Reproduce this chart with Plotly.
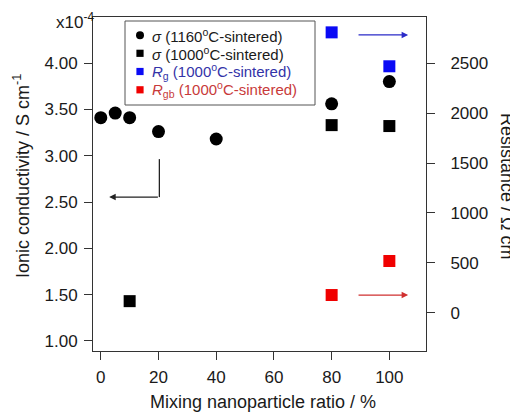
import plotly.graph_objects as go

# ---- data ----
x_1160 = [0, 5, 10, 20, 40, 80, 100]
sigma_1160 = [3.41, 3.46, 3.41, 3.26, 3.18, 3.56, 3.80]

x_1000 = [10, 80, 100]
sigma_1000 = [1.43, 3.33, 3.32]

x_R = [80, 100]
R_g = [2810, 2470]
R_gb = [177, 518]

x_ticks = [0, 20, 40, 60, 80, 100]
y_left_ticks = [1.0, 1.5, 2.0, 2.5, 3.0, 3.5, 4.0]
y_right_ticks = [0, 500, 1000, 1500, 2000, 2500]

legend_labels = [
    "<i>σ</i> (1160<sup>o</sup>C-sintered)",
    "<i>σ</i> (1000<sup>o</sup>C-sintered)",
    "<i>R</i><sub>g</sub> (1000<sup>o</sup>C-sintered)",
    "<i>R</i><sub>gb</sub> (1000<sup>o</sup>C-sintered)",
]
legend_text_colors = ["#1a1a1a", "#1a1a1a", "#3333a8", "#c83a3a"]
legend_marker_colors = ["black", "black", "#0a0af5", "#f00000"]
legend_symbols = ["circle", "rect", "rect", "rect"]

FONT = "Liberation Sans, Arial, sans-serif"
TXT = "#1a1a1a"
AX = "#333333"

# page body has an 8px default margin: work in screen pixels, offset the figure
OFF = 8
W, H = 518 - OFF, 414 - OFF
L, R, T, B = 93, 426, 17, 351  # plot area in screen pixels
def fx(px):
    return (px - L) / (R - L)
def fy(py):
    return (B - py) / (B - T)

fig = go.Figure()
fig.add_trace(go.Scatter(
    x=x_1160, y=sigma_1160, mode="markers",
    marker=dict(symbol="circle", size=13, color="black"), showlegend=False))
fig.add_trace(go.Scatter(
    x=x_1000, y=sigma_1000, mode="markers",
    marker=dict(symbol="square", size=12, color="black"), showlegend=False))
fig.add_trace(go.Scatter(
    x=x_R, y=R_g, mode="markers", yaxis="y2",
    marker=dict(symbol="square", size=12, color="#0a0af5"), showlegend=False))
fig.add_trace(go.Scatter(
    x=x_R, y=R_gb, mode="markers", yaxis="y2",
    marker=dict(symbol="square", size=12, color="#f00000"), showlegend=False))

annotations = [
    dict(text="x10<sup>-4</sup>", xref="paper", yref="paper", x=fx(75), y=fy(21),
         xanchor="center", yanchor="middle", showarrow=False,
         font=dict(size=17, color=TXT)),
    dict(text="Ionic conductivity / S cm<sup>-1</sup>", xref="paper", yref="paper",
         x=fx(21), y=fy(176), textangle=-90, showarrow=False,
         xanchor="center", yanchor="middle", font=dict(size=18, color=TXT)),
    dict(text="Resistance / Ω cm", xref="paper", yref="paper",
         x=fx(507), y=fy(186), textangle=90, showarrow=False,
         xanchor="center", yanchor="middle", font=dict(size=18, color=TXT)),
    dict(text="Mixing nanoparticle ratio / %", xref="paper", yref="paper",
         x=fx(263), y=fy(402), showarrow=False,
         xanchor="center", yanchor="middle", font=dict(size=18, color=TXT)),
    # arrows
    dict(x=106.5, y=2784, xref="x", yref="y2", ax=88.8, ay=2784,
         axref="x", ayref="y2", showarrow=True, arrowhead=2, arrowsize=1,
         arrowwidth=1.3, arrowcolor="#2b2bc8", text=""),
    dict(x=106.5, y=R_gb[0], xref="x", yref="y2", ax=88.8, ay=R_gb[0],
         axref="x", ayref="y2", showarrow=True, arrowhead=2, arrowsize=1,
         arrowwidth=1.3, arrowcolor="#d03030", text=""),
    dict(x=2.9, y=2.553, xref="x", yref="y", ax=20.3, ay=2.553,
         axref="x", ayref="y", showarrow=True, arrowhead=2, arrowsize=1,
         arrowwidth=1.3, arrowcolor="#222222", text=""),
]

shapes = [
    dict(type="line", xref="x", yref="y", x0=20.3, x1=20.3, y0=2.963, y1=2.553,
         line=dict(color="#222222", width=1.3)),
    # legend box
    dict(type="rect", xref="paper", yref="paper", x0=fx(125), x1=fx(315),
         y0=fy(105), y1=fy(21), line=dict(color="#555555", width=1),
         fillcolor="white", layer="below"),
]

row_y = [35.3, 53.3, 71.5, 89.8]
for lab, tc, mc, sym, ry in zip(legend_labels, legend_text_colors,
                                legend_marker_colors, legend_symbols, row_y):
    h = 4 if sym == "circle" else 3.6
    shapes.append(dict(type=sym, xref="paper", yref="paper",
                       xsizemode="pixel", ysizemode="pixel",
                       xanchor=fx(140), yanchor=fy(ry),
                       x0=-h, x1=h, y0=-h, y1=h,
                       fillcolor=mc, line=dict(width=0)))
    annotations.append(dict(text=lab, xref="paper", yref="paper",
                            x=fx(150), y=fy(ry), xanchor="left", yanchor="middle",
                            showarrow=False, font=dict(size=15, color=tc)))

fig.update_layout(
    width=W, height=H,
    margin=dict(l=L - OFF, r=W - (R - OFF), t=T - OFF, b=H - (B - OFF)),
    paper_bgcolor="white", plot_bgcolor="white",
    font=dict(family=FONT, size=17, color=TXT),
    showlegend=False,
    xaxis=dict(range=[-2.7, 112.7], tickvals=x_ticks, ticks="outside", ticklen=8,
               tickcolor=AX, showline=True, linecolor=AX, linewidth=1, mirror=True,
               showgrid=False, zeroline=False, automargin=False,
               ticklabelstandoff=3),
    yaxis=dict(range=[0.892, 4.497], tickvals=y_left_ticks, tickformat=".2f",
               ticks="outside", ticklen=8, tickcolor=AX, showline=True,
               linecolor=AX, linewidth=1, showgrid=False, zeroline=False,
               automargin=False, ticklabelstandoff=3),
    yaxis2=dict(range=[-384, 2964], tickvals=y_right_ticks, overlaying="y", side="right",
                ticks="outside", ticklen=8, tickcolor=AX, showline=True,
                linecolor=AX, linewidth=1, showgrid=False, zeroline=False,
                automargin=False, ticklabelstandoff=12),
    annotations=annotations, shapes=shapes,
)

fig.write_html("out.html")
